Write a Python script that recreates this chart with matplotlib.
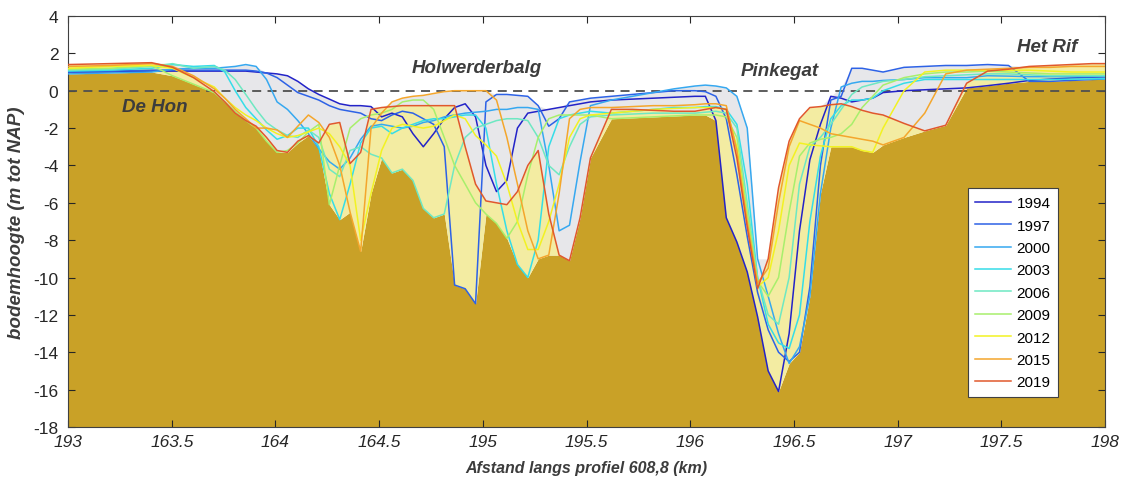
import numpy as np
import matplotlib
matplotlib.use('Agg')
import matplotlib.pyplot as plt

plt.rcParams['font.family'] = ['Liberation Sans', 'DejaVu Sans']
plt.rcParams['axes.unicode_minus'] = False

# afstand langs profiel (km), gedeelde meetpunten
x_km = [193.0, 193.2015, 193.403, 193.504, 193.605,
        193.705, 193.756, 193.806, 193.857, 193.907, 193.957,
        194.008, 194.058, 194.108, 194.159, 194.209, 194.26, 194.31,
        194.36, 194.411, 194.461, 194.512, 194.562, 194.612, 194.663, 194.713, 194.763, 194.814,
        194.864, 194.915, 194.965,
        195.015, 195.066, 195.116, 195.167, 195.217, 195.267, 195.318, 195.368, 195.418, 195.469,
        195.519,
        195.62, 195.721, 195.822, 195.922, 196.023, 196.073,
        196.124, 196.174, 196.225, 196.275, 196.325, 196.376, 196.426, 196.477, 196.527, 196.577,
        196.628, 196.678, 196.728, 196.779,
        196.829, 196.88, 196.93, 197.031, 197.131, 197.232, 197.333, 197.434, 197.535, 197.635,
        197.736, 197.837, 197.938, 198.038]

# bodemhoogte per jaar (m tot NAP)
z_1994 = [1.0, 1.0, 1.05, 1.05, 1.05,
          1.05, 1.05, 1.05, 1.05, 1.0, 0.95,
          0.9, 0.8, 0.5, 0.1, -0.2, -0.45, -0.7,
          -0.8, -0.8, -0.85, -1.4, -1.2, -1.4, -2.3, -3.0, -2.3, -1.5, -0.9, -0.7, -1.4,
          -4.0, -5.4, -4.8, -2.0, -1.2, -1.1, -1.0, -0.9, -0.8, -0.7, -0.6,
          -0.5, -0.45, -0.4, -0.35, -0.3, -0.3,
          -1.6, -6.8, -8.1, -9.7, -12.1, -15.0, -16.1, -13.0, -7.5, -3.7, -1.8, -0.3, -0.4, -0.6,
          -0.5, -0.4, -0.1, 0.0, 0.05, 0.1, 0.15, 0.27, 0.4, 0.55, 0.62, 0.68, 0.72, 0.75]
z_1997 = [1.0, 1.05, 1.1, 1.1, 1.1,
          1.1, 1.1, 1.1, 1.1, 1.05, 0.95,
          0.7, 0.3, -0.1, -0.3, -0.5, -0.8, -1.0,
          -1.1, -1.2, -1.5, -1.6, -1.3, -1.1, -1.2, -1.5, -1.8, -3.0, -10.4, -10.6, -11.4,
          -0.6, -0.2, -0.2, -0.25, -0.3, -0.8, -1.9, -1.5, -0.6, -0.5, -0.4,
          -0.3, -0.2, -0.1, 0.0, 0.0, -0.05,
          -0.3, -1.5, -4.5, -7.8, -10.8, -12.8, -14.0, -14.5, -14.0, -10.5, -4.0, -0.5, -0.3, 1.2,
          1.2, 1.1, 1.0, 1.25, 1.3, 1.35, 1.35, 1.4, 1.35, 0.5, 0.5, 0.55, 0.6, 0.65]
z_2000 = [0.9, 0.95, 1.0, 1.15, 1.2,
          1.2, 1.25, 1.3, 1.4, 1.3, 0.6,
          -0.6, -1.0, -1.6, -2.3, -3.1, -3.8, -4.2,
          -3.6, -2.6, -1.9, -1.8, -1.9, -2.0, -1.9, -1.7, -1.6, -1.4, -1.3, -1.2, -1.15,
          -1.1, -1.0, -1.0, -0.9, -0.9, -1.0, -4.0, -7.5, -7.2, -3.8, -0.8,
          -0.5, -0.3, -0.1, 0.1, 0.25, 0.3,
          0.25, 0.15, -0.3, -2.0, -9.0, -11.0, -13.0, -14.6, -13.7, -11.0, -5.5, -2.0, 0.2, 0.4,
          0.5, 0.5, 0.55, 0.6, 0.7, 0.7, 0.7, 0.8, 0.78, 0.75, 0.75, 0.75, 0.75, 0.75]
z_2003 = [1.05, 1.1, 1.2, 1.4, 1.3,
          1.35, 1.0, 0.0, -0.9, -1.5, -2.1,
          -2.6, -2.4, -2.0, -2.0, -3.0, -5.5, -6.9,
          -5.0, -2.8, -2.0, -1.9, -2.3, -2.0, -1.8, -1.6, -1.5, -1.5, -1.4, -1.3, -1.3,
          -2.0, -5.0, -7.5, -9.3, -10.0, -8.0, -3.0, -1.5, -1.3, -1.2, -1.1,
          -1.2, -1.1, -1.0, -0.9, -0.9, -0.85,
          -0.85, -1.0, -1.8, -5.0, -10.0, -12.5, -13.5, -13.8, -12.0, -7.0, -3.5, -1.5, -0.8, -0.5,
          -0.5, -0.4, 0.0, 0.4, 0.6, 0.6, 0.6, 0.6, 0.6, 0.6, 0.6, 0.62, 0.63, 0.65]
z_2006 = [1.1, 1.15, 1.3, 1.45, 1.2,
          1.3, 1.1, 0.6, -0.2, -1.0, -1.7,
          -2.1, -2.4, -2.5, -2.1, -2.5, -4.2, -4.6,
          -3.2, -3.0, -3.4, -3.6, -4.4, -4.2, -4.8, -6.3, -6.8, -6.6, -4.0, -2.5, -2.0,
          -1.8, -1.6, -1.5, -1.5, -1.6, -2.5, -4.0, -4.5, -3.0, -1.8, -1.4,
          -1.3, -1.25, -1.2, -1.2, -1.2, -1.15,
          -1.1, -1.2, -2.0, -6.0, -10.0, -12.0, -12.5, -10.0, -5.0, -3.0, -2.5, -1.8, -1.0, -0.2,
          0.2, 0.35, 0.5, 0.6, 0.75, 0.8, 0.85, 0.9, 0.9, 0.85, 0.8, 0.8, 0.8, 0.8]
z_2009 = [1.15, 1.2, 1.35, 0.8, 0.35,
          -0.1, -0.6, -1.1, -1.6, -2.0, -2.7,
          -3.3, -3.2, -2.8, -2.2, -1.8, -6.1, -4.0,
          -2.0, -1.5, -1.3, -1.2, -1.0, -0.6, -0.5, -0.5, -1.0, -2.5, -4.0, -5.0, -6.0,
          -6.6, -7.1, -7.9, -7.0, -4.5, -2.5, -1.5, -1.3, -1.3, -1.3, -1.3,
          -1.5, -1.45, -1.4, -1.35, -1.3, -1.3,
          -1.3, -1.4, -2.5, -6.5, -10.2, -11.0, -10.0, -6.5, -3.5, -2.8, -2.6, -2.5, -2.3, -1.8,
          -0.9, -0.3, 0.3, 0.7, 0.9, 1.0, 1.0, 1.05, 1.0, 0.95, 0.9, 0.9, 0.9, 0.9]
z_2012 = [1.2, 1.3, 1.35, 1.2, 0.7,
          0.2, -0.4, -0.9, -1.3, -1.6, -2.0,
          -2.3, -2.5, -2.4, -2.2, -2.0, -2.3, -3.0,
          -4.0, -8.0, -5.5, -3.2, -2.0, -1.8, -1.9, -2.0, -1.9, -1.6, -1.3, -1.5, -2.4,
          -2.9, -3.5, -5.0, -7.0, -8.5, -8.5, -7.0, -5.0, -2.5, -1.5, -1.3,
          -1.2, -1.1, -1.0, -0.95, -0.9, -0.9,
          -0.9, -1.0, -3.0, -7.0, -10.5, -10.0, -7.5, -4.0, -2.8, -2.9, -2.95, -3.0, -3.0, -3.0,
          -3.2, -3.3, -2.0, 0.0, 1.0, 1.1, 1.1, 1.1, 1.1, 1.1, 1.05, 1.0, 1.0, 1.0]
z_2015 = [1.3, 1.35, 1.45, 1.3, 0.8,
          0.1, -0.4, -1.0, -1.5, -2.0, -2.0,
          -2.1, -2.5, -1.9, -1.3, -1.7, -2.5, -4.0,
          -6.5, -8.6, -2.0, -1.2, -0.6, -0.4, -0.3, -0.25, -0.15, -0.05, 0.0, 0.0, 0.0,
          0.0, -0.5, -2.5, -5.0, -7.5, -9.0, -8.8, -5.5, -1.5, -1.0, -0.9,
          -0.9, -0.85, -0.8, -0.8, -0.75, -0.7,
          -0.7, -0.8, -3.2, -7.0, -10.3, -9.5, -6.0, -3.0, -1.6, -1.8, -2.0, -2.3, -2.4, -2.5,
          -2.6, -2.7, -2.9, -2.5, -1.2, 0.9, 1.1, 1.15, 1.2, 1.25, 1.25, 1.3, 1.3, 1.3]
z_2019 = [1.4, 1.45, 1.5, 1.25, 0.7,
          -0.05, -0.6, -1.2, -1.6, -1.9, -2.5,
          -3.2, -3.3, -2.7, -2.4, -2.8, -1.8, -1.7,
          -3.9, -3.3, -1.0, -0.9, -0.85, -0.8, -0.8, -0.8, -0.8, -0.8, -0.8, -3.0, -5.0,
          -5.9, -6.0, -6.1, -5.4, -4.0, -3.2, -6.6, -8.8, -9.1, -6.8, -3.6,
          -1.0, -1.0, -1.05, -1.1, -1.1, -1.0,
          -0.9, -1.0, -3.6, -7.3, -10.6, -9.0, -5.2, -2.7, -1.5, -0.9, -0.85, -0.75, -0.7, -0.85,
          -1.05, -1.2, -1.3, -1.75, -2.15, -1.85, 0.4, 1.05, 1.15, 1.3, 1.35, 1.4, 1.45, 1.45]

years = ['1994', '1997', '2000', '2003', '2006', '2009', '2012', '2015', '2019']
profiles = [z_1994, z_1997, z_2000, z_2003, z_2006, z_2009, z_2012, z_2015, z_2019]
line_colors = ['#2323c8', '#2d62e6', '#36a8f0', '#35dde8', '#6ee8c2',
               '#a8ef6c', '#f2f222', '#f4a62c', '#e0582c']

x_ticks = [193, 193.5, 194, 194.5, 195, 195.5, 196, 196.5, 197, 197.5, 198]
x_ticklabels = ['193', '163.5', '164', '164.5', '195', '195.5', '196', '196.5', '197', '197.5', '198']

x = np.array(x_km)
Z = np.array(profiles)
z_low = Z.min(axis=0)
z_high = Z.max(axis=0)
z_last = Z[-1]

fig = plt.figure(figsize=(11.21, 4.81), dpi=100)
ax = fig.add_axes([0.0607, 0.1102, 0.925, 0.8545])

# bodem, erosie (grijs) en sedimentatie (geel)
ax.fill_between(x, z_low, -18, color='#c9a127', lw=0, zorder=1)
ax.fill_between(x, z_high, z_last, color='#e7e7ea', lw=0, zorder=1)
ax.fill_between(x, z_last, z_low, color='#f3eca2', lw=0, zorder=1)
ax.axhline(0, ls=(0, (5, 3.5)), color='#505050', lw=1.3, zorder=2)

for yr, z, c in zip(years, profiles, line_colors):
    ax.plot(x, z, color=c, lw=1.1, label=yr, zorder=3)

txt = dict(fontsize=13.5, fontweight='bold', fontstyle='italic', color='#3c3c3c',
           ha='center', va='center', zorder=5)
ax.text(193.42, -0.86, 'De Hon', **txt)
ax.text(194.97, 1.23, 'Holwerderbalg', **txt)
ax.text(196.43, 1.07, 'Pinkegat', **txt)
ax.text(197.72, 2.35, 'Het Rif', **txt)

ax.set_xlim(193, 198)
ax.set_ylim(-18, 4)
ax.set_yticks(np.arange(-18, 5, 2))
ax.set_xticks(x_ticks)
ax.set_xticklabels(x_ticklabels, fontstyle='italic')
ax.tick_params(direction='in', top=True, right=True, length=5, width=0.8,
               labelsize=12.5, colors='#262626')
ax.tick_params(axis='x', pad=5)
ax.tick_params(axis='y', pad=7)
for s in ax.spines.values():
    s.set_color('#404040')
    s.set_linewidth(0.8)

ax.set_xlabel('Afstand langs profiel 608,8 (km)', fontsize=11.5, fontweight='bold',
              fontstyle='italic', color='#3c3c3c', labelpad=8)
ax.set_ylabel('bodemhoogte (m tot NAP)', fontsize=13.5, fontweight='bold',
              fontstyle='italic', color='#3c3c3c', labelpad=6)

leg = ax.legend(loc='lower right', bbox_to_anchor=(0.955, 0.073), borderaxespad=0,
                fontsize=11, frameon=True, fancybox=False, edgecolor='#404040',
                framealpha=1, handlelength=2.3, labelspacing=0.55, borderpad=0.5,
                handletextpad=0.4)
leg.get_frame().set_linewidth(0.8)
leg.set_zorder(10)

fig.savefig('out.png', dpi=100)
